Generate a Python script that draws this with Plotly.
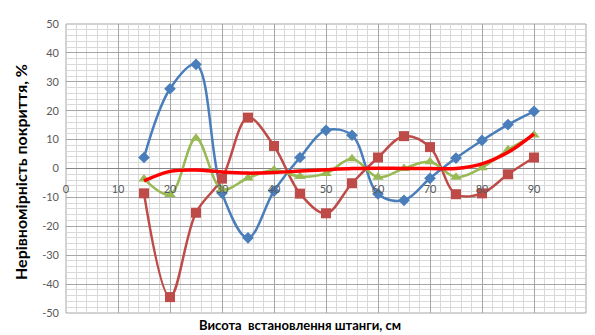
import plotly.graph_objects as go

x_vals = [15, 20, 25, 30, 35, 40, 45, 50, 55, 60, 65, 70, 75, 80, 85, 90]
blue_vals = [3.8, 27.6, 36, -8.5, -24, -7.8, 3.8, 13.2, 11.5, -8.8, -11, -3.4, 3.6, 9.7, 15.2, 19.8]
red_vals = [-8.6, -44.5, -15.3, -3.5, 17.6, 7.8, -8.7, -15.5, -5.1, 3.8, 11.2, 7.4, -8.9, -8.6, -2.0, 3.8]
green_vals = [-3.6, -9.0, 10.5, -7.2, -3.3, -0.5, -2.8, -1.7, 3.4, -3.0, 0.0, 2.3, -3.0, 0.3, 6.5, 11.6]
trend_vals = [-4.3, -1.0, -0.5, -1.2, -1.6, -1.4, -0.9, -0.4, 0.0, 0.1, 0.0, 0.0, 0.0, 1.6, 5.6, 12.0]

x_ticks = list(range(0, 101, 10))
y_ticks = list(range(-50, 51, 10))

FONT = "Lato"
SM = 1.0

fig = go.Figure()
fig.add_trace(go.Scatter(x=x_vals, y=blue_vals, mode="lines+markers",
                         line=dict(color="#4A7EBB", width=2.5, shape="spline", smoothing=SM),
                         marker=dict(symbol="diamond", size=9, color="#4A7EBB")))
fig.add_trace(go.Scatter(x=x_vals, y=red_vals, mode="lines+markers",
                         line=dict(color="#BE4B48", width=2.5, shape="spline", smoothing=SM),
                         marker=dict(symbol="square", size=10, color="#BE4B48")))
fig.add_trace(go.Scatter(x=x_vals, y=green_vals, mode="lines+markers",
                         line=dict(color="#98B954", width=2.5, shape="spline", smoothing=SM),
                         marker=dict(symbol="triangle-up", size=10, color="#98B954")))
fig.add_trace(go.Scatter(x=x_vals, y=trend_vals, mode="lines",
                         line=dict(color="#FF0000", width=3.5, shape="spline", smoothing=1)))

fig.update_layout(
    width=587, height=327,
    margin=dict(l=58, r=9, t=16, b=22),
    paper_bgcolor="white", plot_bgcolor="white",
    showlegend=False,
    font=dict(family=FONT, size=11, color="#595959"),
    xaxis=dict(range=[0, 100], tickvals=x_ticks, ticktext=[str(v) for v in x_ticks],
               showgrid=True, gridcolor="#A6A6A6", gridwidth=1,
               minor=dict(dtick=2, showgrid=True, gridcolor="#D9D9D9", gridwidth=1),
               zeroline=False, anchor="free", position=0.5, showline=False,
               ticks="", ticklabelstandoff=12,
               tickfont=dict(family=FONT, size=11, color="#595959")),
    yaxis=dict(range=[-50, 50], tickvals=y_ticks, ticktext=[str(v) for v in y_ticks],
               showgrid=True, gridcolor="#A6A6A6", gridwidth=1,
               minor=dict(dtick=2, showgrid=True, gridcolor="#D9D9D9", gridwidth=1),
               zeroline=True, zerolinecolor="#868686", zerolinewidth=1.2,
               ticks="", ticklabelstandoff=6,
               tickfont=dict(family=FONT, size=11, color="#595959")),
    shapes=[dict(type="rect", xref="paper", yref="paper", x0=0, x1=1, y0=0, y1=1,
                 line=dict(color="#A6A6A6", width=1), layer="below")],
    annotations=[
        dict(text="<b>Висота  встановлення штанги, см</b>", xref="paper", yref="paper",
             x=0.45, y=-0.0415, yanchor="middle", xanchor="center", showarrow=False,
             font=dict(family=FONT, size=13, color="#000000")),
        dict(text="<b>Нерівномірність покриття, %</b>", xref="paper", yref="paper",
             x=-0.0865, y=0.488, xanchor="center", yanchor="middle", textangle=-90,
             showarrow=False, font=dict(family=FONT, size=16, color="#000000")),
    ],
)

fig.write_html("out.html")
